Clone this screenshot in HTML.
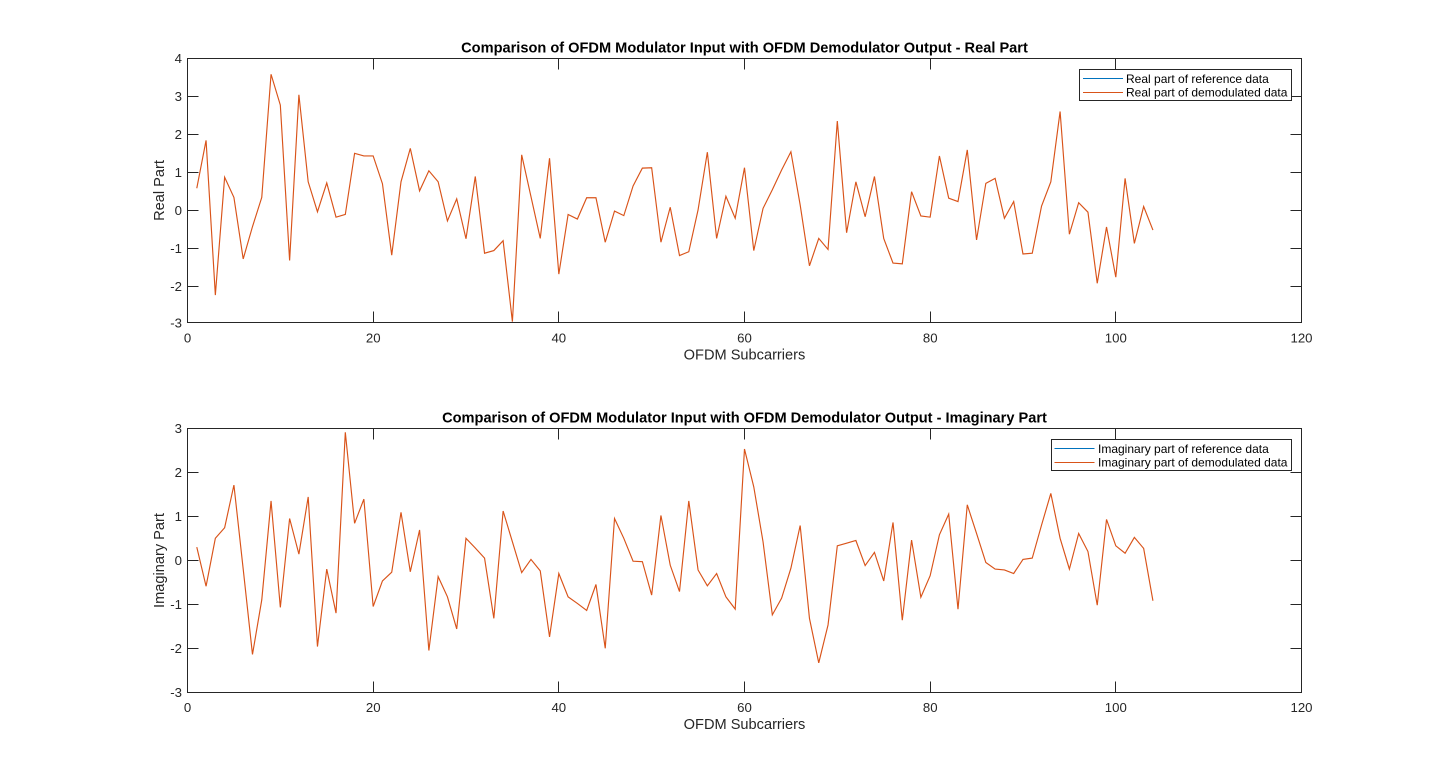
<!DOCTYPE html>
<html>
<head>
<meta charset="utf-8">
<style>
  html,body{margin:0;padding:0;background:#fff;}
  svg{display:block;}
  text{font-family:"Liberation Sans",Arial,Helvetica,sans-serif;}
  .tk{font-size:13.2px;fill:#262626;}
  .lb{font-size:14.6px;fill:#262626;}
  .tt{font-size:14.6px;font-weight:bold;fill:#000;}
  .lg{font-size:12px;fill:#000;}
  .ax{stroke:#262626;stroke-width:1;fill:none;shape-rendering:crispEdges;}
  .d{fill:none;stroke-width:1.15;vector-effect:non-scaling-stroke;stroke-linejoin:miter;}
</style>
</head>
<body>
<svg width="1440" height="779" viewBox="0 0 1440 779" xmlns="http://www.w3.org/2000/svg">
<rect x="0" y="0" width="1440" height="779" fill="#fff"/>

<!-- ================= TOP AXES ================= -->
<rect x="187.5" y="58.5" width="1114" height="264" fill="#fff" class="ax"/>
<g transform="translate(187.5,210.3) scale(9.283,-38)">
  <polyline class="d" stroke="#D95319" points="1,0.58 2,1.84 3,-2.23 4,0.87 5,0.34 6,-1.28 7,-0.43 8,0.34 9,3.58 10,2.77 11,-1.32 12,3.04 13,0.75 14,-0.04 15,0.72 16,-0.18 17,-0.11 18,1.50 19,1.43 20,1.43 21,0.70 22,-1.18 23,0.75 24,1.63 25,0.51 26,1.04 27,0.75 28,-0.28 29,0.30 30,-0.75 31,0.89 32,-1.13 33,-1.06 34,-0.80 35,-2.93 36,1.46 37,0.36 38,-0.74 39,1.37 40,-1.68 41,-0.11 42,-0.23 43,0.33 44,0.33 45,-0.84 46,-0.02 47,-0.14 48,0.64 49,1.11 50,1.12 51,-0.84 52,0.08 53,-1.19 54,-1.09 55,0.01 56,1.53 57,-0.74 58,0.37 59,-0.21 60,1.12 61,-1.06 62,0.05 63,0.54 64,1.06 65,1.54 66,0.14 67,-1.46 68,-0.74 69,-1.03 70,2.35 71,-0.59 72,0.75 73,-0.17 74,0.89 75,-0.74 76,-1.39 77,-1.41 78,0.49 79,-0.15 80,-0.18 81,1.43 82,0.32 83,0.23 84,1.59 85,-0.78 86,0.71 87,0.84 88,-0.21 89,0.23 90,-1.15 91,-1.13 92,0.11 93,0.75 94,2.60 95,-0.63 96,0.20 97,-0.05 98,-1.92 99,-0.44 100,-1.76 101,0.84 102,-0.87 103,0.10 104,-0.52"/>
</g>
<path class="ax" d="
M373.5,322.5 V311.5 M558.5,322.5 V311.5 M744.5,322.5 V311.5 M930.5,322.5 V311.5 M1115.5,322.5 V311.5
M373.5,58.5 V69.5 M558.5,58.5 V69.5 M744.5,58.5 V69.5 M930.5,58.5 V69.5 M1115.5,58.5 V69.5
M187.5,96.5 H198.5 M187.5,134.5 H198.5 M187.5,172.5 H198.5 M187.5,210.5 H198.5 M187.5,248.5 H198.5 M187.5,286.5 H198.5
M1301.5,96.5 H1290.5 M1301.5,134.5 H1290.5 M1301.5,172.5 H1290.5 M1301.5,210.5 H1290.5 M1301.5,248.5 H1290.5 M1301.5,286.5 H1290.5"/>
<rect x="187.5" y="58.5" width="1114" height="264" class="ax"/>
<g class="tk" text-anchor="end">
  <text x="182" y="63">4</text>
  <text x="182" y="101">3</text>
  <text x="182" y="139">2</text>
  <text x="182" y="177">1</text>
  <text x="182" y="215">0</text>
  <text x="182" y="253">-1</text>
  <text x="182" y="291">-2</text>
  <text x="182" y="327.3">-3</text>
</g>
<g class="tk" text-anchor="middle">
  <text x="187.5" y="342.5">0</text>
  <text x="373.2" y="342.5">20</text>
  <text x="558.8" y="342.5">40</text>
  <text x="744.5" y="342.5">60</text>
  <text x="930.2" y="342.5">80</text>
  <text x="1115.8" y="342.5">100</text>
  <text x="1301.5" y="342.5">120</text>
</g>
<text class="lb" x="744.5" y="359.5" text-anchor="middle">OFDM Subcarriers</text>
<text class="lb" transform="translate(164,190.5) rotate(-90)" text-anchor="middle">Real Part</text>
<text class="tt" x="744.5" y="52.3" text-anchor="middle">Comparison of OFDM Modulator Input with OFDM Demodulator Output - Real Part</text>
<rect x="1079.5" y="69.5" width="212" height="31" fill="#fff" stroke="#262626" stroke-width="1" shape-rendering="crispEdges"/>
<line x1="1083" y1="78.5" x2="1123" y2="78.5" stroke="#0072BD" stroke-width="1.1"/>
<line x1="1083" y1="92.5" x2="1123" y2="92.5" stroke="#D95319" stroke-width="1.1"/>
<text class="lg" x="1126" y="82.8">Real part of reference data</text>
<text class="lg" x="1126" y="96.6">Real part of demodulated data</text>

<!-- ================= BOTTOM AXES ================= -->
<rect x="187.5" y="428.5" width="1114" height="264" fill="#fff" class="ax"/>
<g transform="translate(187.5,560.3) scale(9.283,-44)">
  <polyline class="d" stroke="#D95319" points="1,0.30 2,-0.59 3,0.50 4,0.74 5,1.71 6,-0.20 7,-2.14 8,-0.90 9,1.35 10,-1.07 11,0.95 12,0.14 13,1.44 14,-1.96 15,-0.20 16,-1.20 17,2.91 18,0.84 19,1.39 20,-1.05 21,-0.47 22,-0.27 23,1.09 24,-0.26 25,0.69 26,-2.05 27,-0.37 28,-0.83 29,-1.56 30,0.50 31,0.28 32,0.05 33,-1.32 34,1.12 35,0.42 36,-0.28 37,0.02 38,-0.24 39,-1.74 40,-0.30 41,-0.83 42,-0.98 43,-1.14 44,-0.55 45,-2.00 46,0.95 47,0.50 48,-0.02 49,-0.03 50,-0.79 51,1.02 52,-0.11 53,-0.71 54,1.35 55,-0.22 56,-0.58 57,-0.30 58,-0.83 59,-1.11 60,2.53 61,1.67 62,0.42 63,-1.24 64,-0.86 65,-0.18 66,0.79 67,-1.32 68,-2.33 69,-1.47 70,0.33 71,0.39 72,0.45 73,-0.12 74,0.18 75,-0.47 76,0.86 77,-1.36 78,0.46 79,-0.84 80,-0.35 81,0.58 82,1.05 83,-1.11 84,1.26 85,0.61 86,-0.05 87,-0.20 88,-0.22 89,-0.30 90,0.02 91,0.05 92,0.80 93,1.52 94,0.50 95,-0.20 96,0.61 97,0.20 98,-1.02 99,0.93 100,0.33 101,0.16 102,0.52 103,0.27 104,-0.92"/>
</g>
<path class="ax" d="
M373.5,692.5 V681.5 M558.5,692.5 V681.5 M744.5,692.5 V681.5 M930.5,692.5 V681.5 M1115.5,692.5 V681.5
M373.5,428.5 V439.5 M558.5,428.5 V439.5 M744.5,428.5 V439.5 M930.5,428.5 V439.5 M1115.5,428.5 V439.5
M187.5,472.5 H198.5 M187.5,516.5 H198.5 M187.5,560.5 H198.5 M187.5,604.5 H198.5 M187.5,648.5 H198.5
M1301.5,472.5 H1290.5 M1301.5,516.5 H1290.5 M1301.5,560.5 H1290.5 M1301.5,604.5 H1290.5 M1301.5,648.5 H1290.5"/>
<rect x="187.5" y="428.5" width="1114" height="264" class="ax"/>
<g class="tk" text-anchor="end">
  <text x="182" y="433">3</text>
  <text x="182" y="477">2</text>
  <text x="182" y="521">1</text>
  <text x="182" y="565">0</text>
  <text x="182" y="609">-1</text>
  <text x="182" y="653">-2</text>
  <text x="182" y="697">-3</text>
</g>
<g class="tk" text-anchor="middle">
  <text x="187.5" y="712">0</text>
  <text x="373.2" y="712">20</text>
  <text x="558.8" y="712">40</text>
  <text x="744.5" y="712">60</text>
  <text x="930.2" y="712">80</text>
  <text x="1115.8" y="712">100</text>
  <text x="1301.5" y="712">120</text>
</g>
<text class="lb" x="744.5" y="729" text-anchor="middle">OFDM Subcarriers</text>
<text class="lb" transform="translate(164,560.5) rotate(-90)" text-anchor="middle">Imaginary Part</text>
<text class="tt" x="744.5" y="422.3" text-anchor="middle">Comparison of OFDM Modulator Input with OFDM Demodulator Output - Imaginary Part</text>
<rect x="1051.5" y="439.5" width="240" height="31" fill="#fff" stroke="#262626" stroke-width="1" shape-rendering="crispEdges"/>
<line x1="1054.5" y1="448.5" x2="1094.5" y2="448.5" stroke="#0072BD" stroke-width="1.1"/>
<line x1="1054.5" y1="462.5" x2="1094.5" y2="462.5" stroke="#D95319" stroke-width="1.1"/>
<text class="lg" x="1098" y="452.8">Imaginary part of reference data</text>
<text class="lg" x="1098" y="466.6">Imaginary part of demodulated data</text>
</svg>
</body>
</html>
